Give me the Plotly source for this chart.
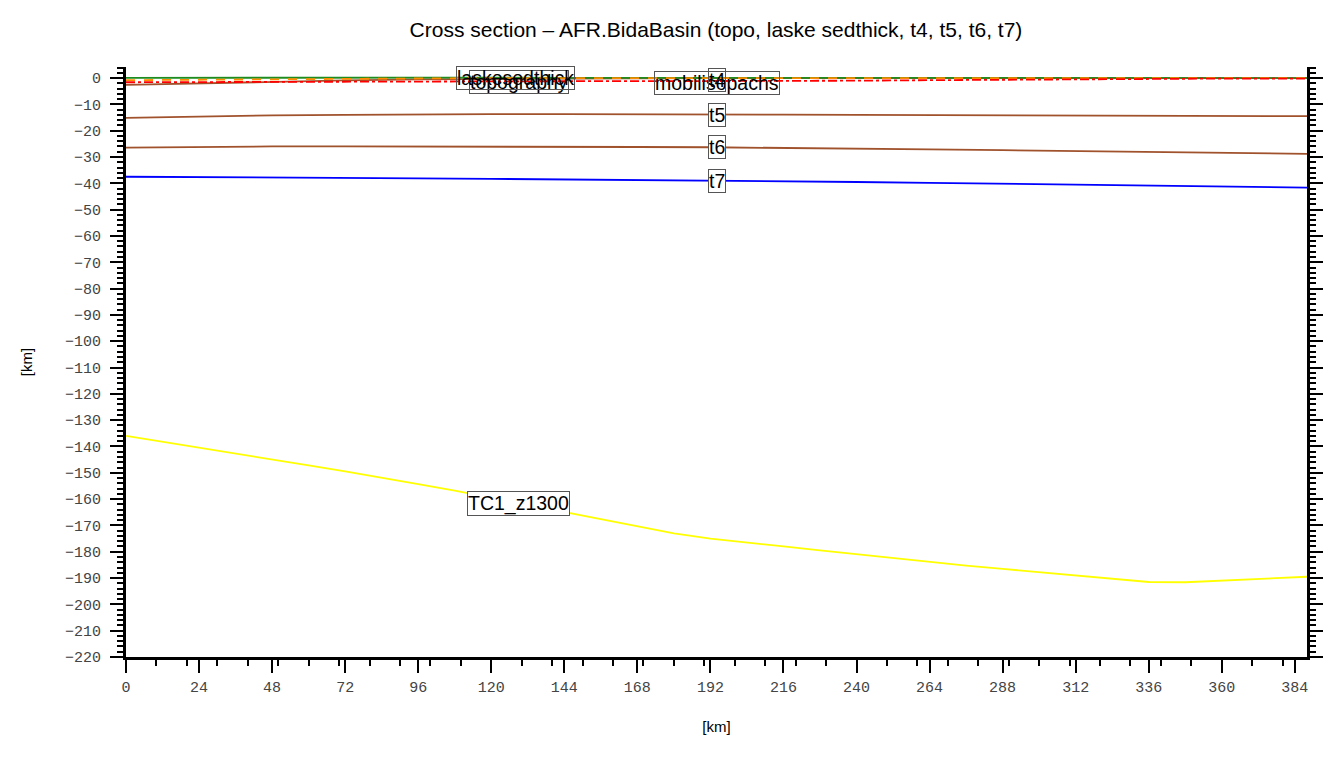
import numpy as np
import plotly.graph_objects as go

dist_km = [0, 24, 48, 72, 96, 120, 144, 168, 192, 216, 240, 264, 288, 312, 336, 360, 384, 388]

topography = [0.1, 0.15, 0.2, 0.2, 0.2, 0.15, 0.1, 0.1, 0.05, 0.05, 0.05, 0.05, 0.0, 0.0, 0.0, 0.0, 0.0, 0.0]
laske_sedthick = [-0.8, -0.6, -0.4, -0.2, -0.1, 0.0, 0.0, 0.0, 0.0, 0.0, 0.0, 0.0, 0.0, 0.0, 0.0, 0.0, 0.0, 0.0]
mobilisopachs = [-1.6, -1.5, -1.4, -1.3, -1.2, -1.2, -1.2, -1.2, -1.2, -1.1, -1.0, -0.8, -0.6, -0.4, -0.3, -0.2, -0.2, -0.2]
t4 = [-2.6, -2.0, -1.4, -0.9, -0.5, -0.3, -0.2, -0.1, 0.0, 0.0, 0.0, 0.0, 0.0, 0.0, 0.0, 0.0, 0.0, 0.0]
t5 = [-15.1, -14.6, -14.2, -14.0, -13.8, -13.7, -13.7, -13.7, -13.7, -13.9, -14.0, -14.1, -14.2, -14.3, -14.5, -14.5, -14.5, -14.5]
t6 = [-26.4, -26.1, -26.0, -26.0, -26.0, -26.0, -26.1, -26.2, -26.3, -26.5, -26.8, -27.1, -27.4, -27.8, -28.1, -28.5, -28.8, -28.8]
t7 = [-37.5, -37.6, -37.7, -37.9, -38.1, -38.3, -38.5, -38.8, -39.0, -39.3, -39.5, -39.8, -40.1, -40.4, -40.7, -41.1, -41.5, -41.6]

tc1_dist_km = [0, 12, 24, 36, 48, 60, 72, 84, 96, 108, 120, 132, 144, 156, 168, 180, 192, 204, 216,
               228, 240, 252, 264, 276, 288, 300, 312, 324, 336, 348, 360, 372, 384, 388]
tc1_z1300 = [-136, -138.2, -140.5, -142.7, -145, -147.2, -149.5, -151.8, -154.3, -156.8, -159.5, -162.3,
             -165, -167.8, -170.5, -173, -175, -176.6, -178, -179.5, -181, -182.5, -184, -185.3, -186.5,
             -187.8, -189, -190.4, -191.5, -191.6, -191, -190.4, -189.8, -189.5]

# name, x, y, colour, dash, label x, label y shift (px), label background
series = [
    ("t7", dist_km, t7, "#0000FF", "solid", 194, 0, "white"),
    ("t6", dist_km, t6, "#A0522D", "solid", 194, 0, "white"),
    ("t5", dist_km, t5, "#A0522D", "solid", 194, -1, "white"),
    ("t4", dist_km, t4, "#A0522D", "solid", None, 0, None),
    ("topography", dist_km, topography, "#1E8C1E", "solid", 129, -4, "rgba(255,255,255,0)"),
    ("laskesedthick", dist_km, laske_sedthick, "#FF8C00", "dash", 128, 0, "rgba(255,255,255,0)"),
    ("mobilisopachs", dist_km, mobilisopachs, "#FF0000", "dashdot", 194, -2, "rgba(255,255,255,0)"),
    ("TC1_z1300", tc1_dist_km, tc1_z1300, "#FFFF00", "solid", 129, 0, "white"),
]

fig = go.Figure()
for name, xs, vals, color, dash, lx, sh, bg in series:
    fig.add_trace(go.Scatter(x=xs, y=vals, mode="lines", name=name,
                             line=dict(color=color, width=1.8, dash=dash), showlegend=False))

label_font = dict(family="Liberation Sans, Arial, sans-serif", size=19.5, color="black")
for name, xs, vals, color, dash, lx, sh, bg in series:
    if lx is None:
        continue
    ly = float(np.interp(lx, xs, vals))
    fig.add_annotation(x=lx, y=ly, text=name, showarrow=False, font=label_font,
                       bgcolor=bg, bordercolor="#555555", borderwidth=1, borderpad=0,
                       yshift=sh)
# t4 label
fig.add_annotation(x=194, y=float(np.interp(194, dist_km, t4)), text="t4", showarrow=False, font=label_font,
                   bgcolor="rgba(255,255,255,0)", bordercolor="#555555", borderwidth=1, borderpad=0, yshift=-2)

tick_font = dict(family="Liberation Mono, Courier New, monospace", size=15, color="#444444")

fig.update_layout(
    width=1332, height=749,
    paper_bgcolor="white", plot_bgcolor="white",
    margin=dict(l=118, r=33, t=59, b=100),
    title=dict(text="Cross section \u2013 AFR.BidaBasin (topo, laske sedthick, t4, t5, t6, t7)",
               x=0.5315, xanchor="center", xref="container", y=0.9706, yanchor="middle",
               font=dict(family="Liberation Sans, Arial, sans-serif", size=21, color="black")),
)
fig.update_xaxes(
    range=[0, 388], tickmode="linear", tick0=0, dtick=24, showgrid=False, zeroline=False,
    automargin=False,
    showline=True, linecolor="black", linewidth=3, ticks="outside", ticklen=13, tickwidth=2,
    tickcolor="black", tickfont=tick_font, ticklabelstandoff=1,
    minor=dict(dtick=10, tick0=0, ticks="outside", ticklen=6, tickwidth=2, tickcolor="black", showgrid=False),
    title=dict(text="[km]", font=dict(family="Liberation Sans, Arial, sans-serif", size=15, color="black"), standoff=26),
)
fig.update_yaxes(
    range=[-220, 4.2], tickmode="linear", tick0=0, dtick=10, showgrid=False, zeroline=False,
    automargin=False,
    showline=True, linecolor="black", linewidth=3, mirror="ticks", ticks="outside", ticklen=13, tickwidth=2,
    tickcolor="black", tickfont=tick_font, ticklabelstandoff=6,
    minor=dict(dtick=2, tick0=0, ticks="outside", ticklen=6, tickwidth=2, tickcolor="black", showgrid=False),
    title=dict(text="[km]", font=dict(family="Liberation Sans, Arial, sans-serif", size=15, color="black"), standoff=29),
)

fig.write_html("out.html")
